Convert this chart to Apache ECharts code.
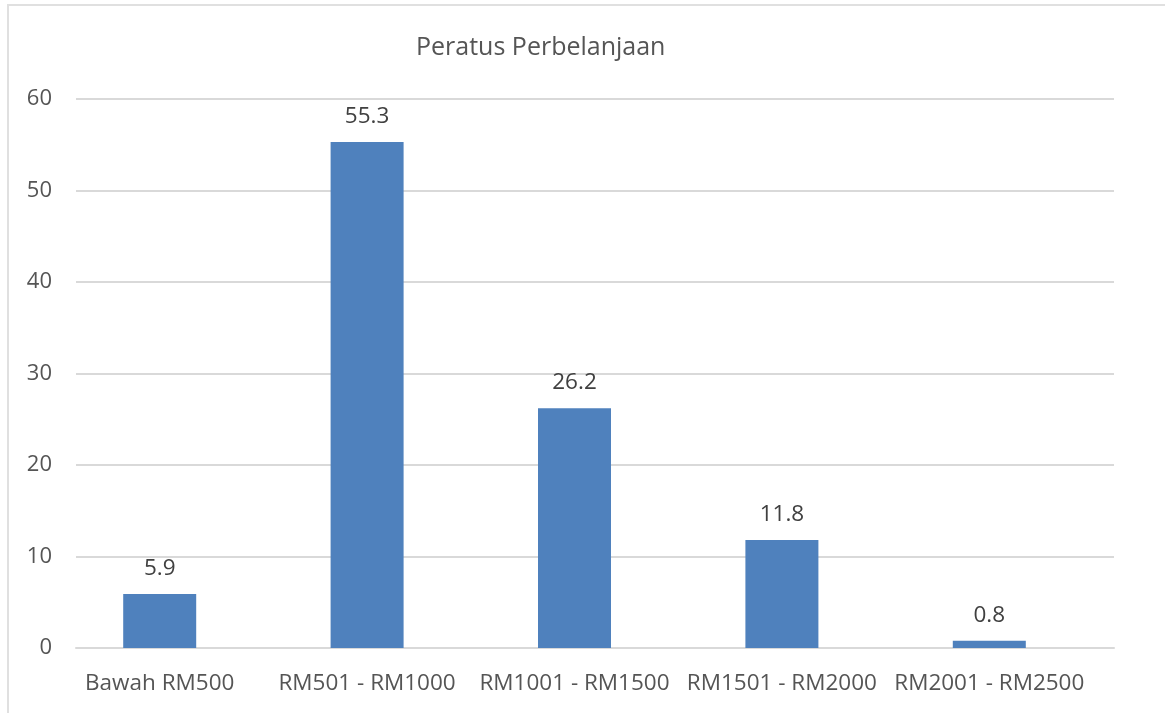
<!DOCTYPE html>
<html>
<head>
<meta charset="utf-8">
<script src="https://cdn.jsdelivr.net/npm/echarts@6/dist/echarts.min.js"></script>
<style>
  html, body { margin: 0; padding: 0; background: #fff; }
  #chart { width: 1165px; height: 713px; }
</style>
</head>
<body>
<div id="chart"></div>
<script>
// Peratus Perbelanjaan
var categories = ["Bawah RM500", "RM501 - RM1000", "RM1001 - RM1500", "RM1501 - RM2000", "RM2001 - RM2500"];
var peratus = [5.9, 55.3, 26.2, 11.8, 0.8];
var yTicks = [0, 10, 20, 30, 40, 50, 60];

var chart = echarts.init(document.getElementById("chart"));

var textColor = "#555555";
var yMin = yTicks[0];
var yMax = yTicks[yTicks.length - 1];

var option = {
  animation: false,
  textStyle: { fontFamily: "Open Sans" },
  title: {
    text: "Peratus Perbelanjaan",
    left: 411,
    top: 30,
    textStyle: { fontFamily: "Open Sans", fontSize: 25, fontWeight: "normal", color: textColor },
  },
  graphic: [
    {
      type: "rect",
      shape: { x: 8, y: 5, width: 1200, height: 800 },
      style: { fill: "none", stroke: "#e0e0e0", lineWidth: 2 },
      silent: true,
    },
  ],
  // grid 0: gridlines + y labels, grid 1: bars + category labels
  grid: [
    { left: 76, right: 51, top: 99, bottom: 65 },
    { left: 56, right: 72, top: 99, bottom: 65 },
  ],
  xAxis: [
    {
      type: "category",
      gridIndex: 0,
      data: categories,
      axisLine: { lineStyle: { color: "#d9d9d9", width: 2 } },
      axisTick: { show: false },
      axisLabel: { show: false },
    },
    {
      type: "category",
      gridIndex: 1,
      data: categories,
      axisLine: { show: false },
      axisTick: { show: false },
      axisLabel: { color: textColor, fontSize: 22.5, margin: 24, interval: 0 },
    },
  ],
  yAxis: [
    {
      type: "value",
      gridIndex: 0,
      min: yMin,
      max: yMax,
      interval: 10,
      axisLine: { show: false },
      axisTick: { show: false },
      axisLabel: { color: textColor, fontSize: 22, margin: 24 },
      splitLine: { lineStyle: { color: "#d9d9d9", width: 2 } },
    },
    {
      type: "value",
      gridIndex: 1,
      min: yMin,
      max: yMax,
      interval: 10,
      show: false,
      splitLine: { show: false },
    },
  ],
  series: [
    {
      name: "Peratus",
      type: "bar",
      xAxisIndex: 1,
      yAxisIndex: 1,
      data: peratus,
      barWidth: 73,
      itemStyle: { color: "#4f81bd" },
      label: {
        show: true,
        position: "top",
        distance: 14,
        color: "#404040",
        fontSize: 22.5,
        fontFamily: "Open Sans",
      },
    },
  ],
};

chart.setOption(option);

window.addEventListener("resize", function () {
  chart.resize();
});
</script>
</body>
</html>
